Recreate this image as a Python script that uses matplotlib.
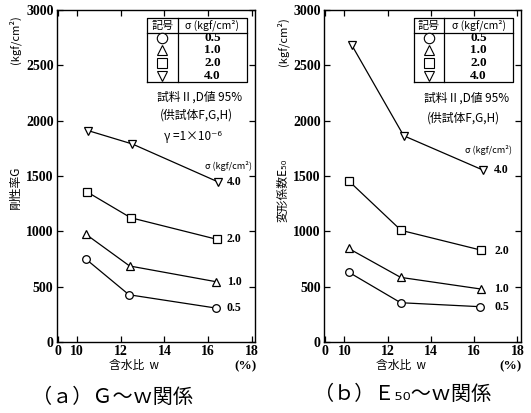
import matplotlib
matplotlib.use("Agg")
import matplotlib.pyplot as plt

plt.rcParams["font.family"] = ["Noto Sans CJK JP", "DejaVu Sans"]

# --- data ---
SIGMA = ["0.5", "1.0", "2.0", "4.0"]
MARKERS = ["o", "^", "s", "v"]

# (a) shear modulus G vs water content w
G_W = {
    "0.5": [10.38, 12.37, 16.35],
    "1.0": [10.40, 12.40, 16.36],
    "2.0": [10.46, 12.45, 16.40],
    "4.0": [10.50, 12.53, 16.44],
}
G_VAL = {
    "0.5": [752, 427, 307],
    "1.0": [973, 687, 545],
    "2.0": [1355, 1123, 928],
    "4.0": [1910, 1789, 1448],
}

# (b) deformation modulus E50 vs water content w
E_W = {
    "0.5": [10.19, 12.60, 16.28],
    "1.0": [10.19, 12.60, 16.30],
    "2.0": [10.21, 12.62, 16.30],
    "4.0": [10.34, 12.74, 16.40],
}
E_VAL = {
    "0.5": [632, 355, 319],
    "1.0": [846, 584, 479],
    "2.0": [1454, 1009, 831],
    "4.0": [2683, 1864, 1554],
}

X_TICKS = [9.1, 10, 12, 14, 16, 18]
X_LABELS = ["0", "10", "12", "14", "16", "18"]
Y_TICKS = [0, 500, 1000, 1500, 2000, 2500, 3000]

NUM = dict(family="Liberation Serif", fontweight="bold")


def draw_table(ax):
    x0, x1, xd = 13.2, 17.8, 14.6
    y0, y1, yh = 2350, 2925, 2795
    kw = dict(color="black", lw=0.9, clip_on=False)
    ax.plot([x0, x1, x1, x0, x0], [y0, y0, y1, y1, y0], **kw)
    ax.plot([xd, xd], [y0, y1], **kw)
    ax.plot([x0, x1], [yh, yh], **kw)
    ax.text((x0 + xd) / 2, 2860, "記号", ha="center", va="center", fontsize=8)
    ax.text((xd + x1) / 2, 2860, "σ (kgf/cm²)", ha="center", va="center",
            fontsize=7.5)
    rows_y = [2745, 2635, 2520, 2405]
    for s, m, yy in zip(SIGMA, MARKERS, rows_y):
        ax.plot([(x0 + xd) / 2], [yy], m, ms=7.5, mfc="white", mec="black",
                mew=0.8, clip_on=False)
        ax.text((xd + x1) / 2, yy, s, ha="center", va="center", fontsize=9.5,
                **NUM)


def setup(ax):
    ax.set_xlim(9.07, 18.15)
    ax.set_ylim(0, 3000)
    ax.set_xticks(X_TICKS)
    ax.set_xticklabels(X_LABELS)
    ax.set_yticks(Y_TICKS)
    ax.tick_params(direction="in", top=True, right=True, length=4,
                   width=0.9, labelsize=10, pad=2.5)
    for lab in ax.get_xticklabels() + ax.get_yticklabels():
        lab.set_fontfamily("Liberation Serif")
        lab.set_fontweight("bold")
    for sp in ax.spines.values():
        sp.set_linewidth(1.0)
    ax.text(12.6, -215, "含水比  w", ha="center", va="center", fontsize=8.5,
            clip_on=False)
    ax.text(17.7, -220, "(%)", ha="center", va="center", fontsize=9.5,
            clip_on=False, **NUM)


def plot_series(ax, xs, ys):
    for s, m in zip(SIGMA, MARKERS):
        ax.plot(xs[s], ys[s], "-", color="black", lw=0.9, marker=m, ms=5.5,
                mfc="white", mec="black", mew=0.9, zorder=3)


fig = plt.figure(figsize=(5.31, 4.13), dpi=100)
axa = fig.add_axes([0.1073, 0.1719, 0.3729, 0.8039])
axb = fig.add_axes([0.6107, 0.1719, 0.3699, 0.8039])

# panel (a)
setup(axa)
plot_series(axa, G_W, G_VAL)
draw_table(axa)
axa.text(15.6, 2213, "試料Ⅱ,D値 95%", ha="center", va="center", fontsize=8.5)
axa.text(15.48, 2050, "(供試体F,G,H)", ha="center", va="center", fontsize=8.5)
axa.text(15.3, 1861, "γ =1×10⁻⁶", ha="center", va="center", fontsize=8.5)
axa.text(16.93, 1590, "σ (kgf/cm²)", ha="center", va="center", fontsize=6.5)
for s, yy in zip(SIGMA, [307, 542, 930, 1445]):
    axa.text(16.85, yy, s, ha="left", va="center", fontsize=8.5, **NUM)

# panel (b)
setup(axb)
plot_series(axb, E_W, E_VAL)
draw_table(axb)
axb.text(15.67, 2204, "試料Ⅱ,D値 95%", ha="center", va="center", fontsize=8.5)
axb.text(15.5, 2024, "(供試体F,G,H)", ha="center", va="center", fontsize=8.5)
axb.text(16.64, 1734, "σ (kgf/cm²)", ha="center", va="center", fontsize=6.5)
for s, yy in zip(SIGMA, [316, 479, 825, 1554]):
    axb.text(16.93, yy, s, ha="left", va="center", fontsize=8.5, **NUM)

# axis titles (rotated)
fig.text(15 / 531, 1 - 40 / 413, "(kgf/cm²)", rotation=90, ha="center",
         va="center", fontsize=8)
fig.text(15 / 531, 1 - 187 / 413, "剛性率G", rotation=90, ha="center",
         va="center", fontsize=8.5)
fig.text(283 / 531, 1 - 42 / 413, "(kgf/cm²)", rotation=90, ha="center",
         va="center", fontsize=8)
fig.text(283 / 531, 1 - 190 / 413, "変形係数E₅₀", rotation=90, ha="center",
         va="center", fontsize=8.5)

# captions
fig.text(113 / 531, 1 - 397 / 413, "（ａ）Ｇ～ｗ関係", ha="center",
         va="center", fontsize=14.5)
fig.text(403 / 531, 1 - 394 / 413, "（ｂ）Ｅ₅₀～ｗ関係", ha="center",
         va="center", fontsize=14.5)

fig.savefig("out.png", dpi=100)
